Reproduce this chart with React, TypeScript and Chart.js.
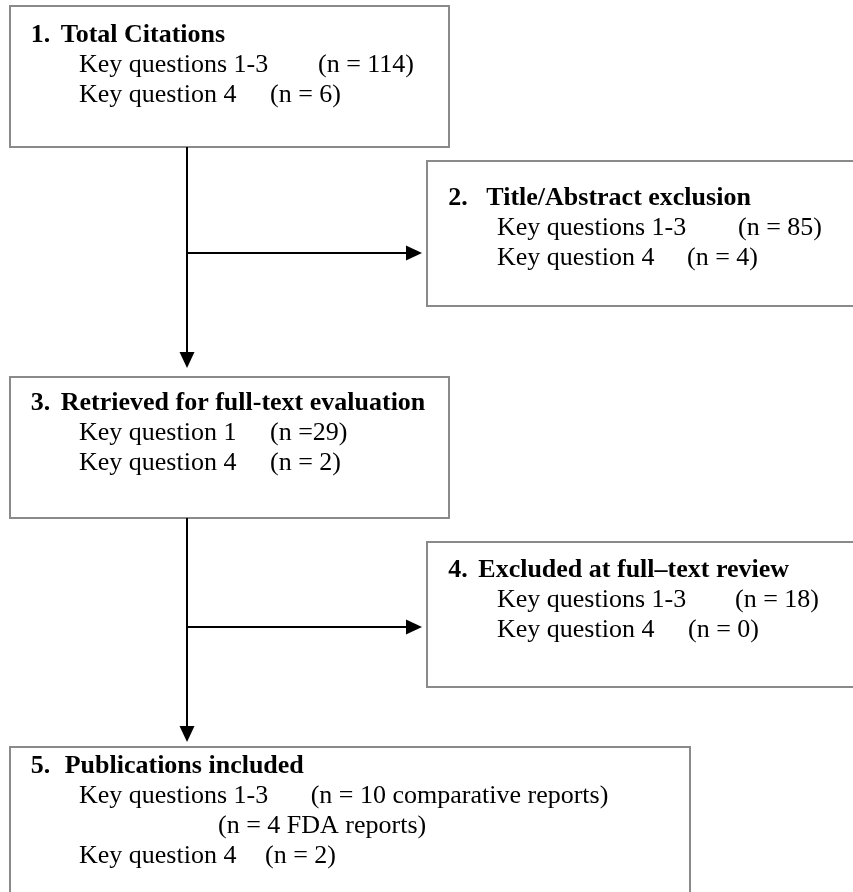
import { useEffect, useRef } from "react";
import { Chart, registerables } from "chart.js";

Chart.register(...registerables);

// ---------- data ----------
const stepNumbers = ["1.", "2.", "3.", "4.", "5."];
const stepTitles = [
  "Total Citations",
  "Title/Abstract exclusion",
  "Retrieved for full-text evaluation",
  "Excluded at full–text review",
  "Publications included",
];
const rowLabels = [
  ["Key questions 1-3", "Key question 4"],
  ["Key questions 1-3", "Key question 4"],
  ["Key question 1", "Key question 4"],
  ["Key questions 1-3", "Key question 4"],
  ["Key questions 1-3", "", "Key question 4"],
];
const rowCounts = [
  ["(n = 114)", "(n = 6)"],
  ["(n = 85)", "(n = 4)"],
  ["(n =29)", "(n = 2)"],
  ["(n = 18)", "(n = 0)"],
  ["(n = 10 comparative reports)", "(n = 4 FDA reports)", "(n = 2)"],
];

// ---------- layout (diagram units = px of the 853x892 page) ----------
const W = 853;
const H = 892;
const boxes = [
  { l: 10, t: 6, r: 449, b: 147, tx: 30.7, gap: 30, tb: 41.7, lx: 79, cx: [318, 270] },
  { l: 427, t: 161, r: 870, b: 306, tx: 448.3, gap: 38, tb: 205, lx: 497, cx: [738, 687] },
  { l: 10, t: 377, r: 449, b: 518, tx: 30.7, gap: 30, tb: 410, lx: 79, cx: [270, 270] },
  { l: 427, t: 542, r: 870, b: 687, tx: 448.3, gap: 30, tb: 577, lx: 497, cx: [735, 688] },
  { l: 10, t: 747, r: 690, b: 910, tx: 30.7, gap: 34, tb: 773, lx: 79, cx: [310.7, 218, 265] },
];
const LINE = 30;
const trunkX = 187;
const branchY = [253, 627];
const FONT = "'Liberation Serif', 'Times New Roman', serif";

export default function App() {
  const ref = useRef<HTMLCanvasElement>(null);

  useEffect(() => {
    const canvas = ref.current;
    if (!canvas) return;

    const flowPlugin = {
      id: "flowDiagram",
      afterDraw(chart: any) {
        const ctx: CanvasRenderingContext2D = chart.ctx;
        const xs = chart.scales.x;
        const ys = chart.scales.y;
        const px = (v: number) => xs.getPixelForValue(v);
        const py = (v: number) => ys.getPixelForValue(v);

        ctx.save();
        // boxes
        ctx.strokeStyle = "#8a8a8a";
        ctx.lineWidth = 2;
        boxes.forEach((bx) => {
          ctx.strokeRect(px(bx.l), py(bx.t), px(bx.r) - px(bx.l), py(bx.b) - py(bx.t));
        });

        // arrows
        const arrowDown = (x: number, y0: number, y1: number) => {
          ctx.strokeStyle = "#000";
          ctx.lineWidth = 2;
          ctx.beginPath();
          ctx.moveTo(px(x), py(y0));
          ctx.lineTo(px(x), py(y1) - 14);
          ctx.stroke();
          ctx.fillStyle = "#000";
          ctx.beginPath();
          ctx.moveTo(px(x) - 7.5, py(y1) - 16);
          ctx.lineTo(px(x) + 7.5, py(y1) - 16);
          ctx.lineTo(px(x), py(y1));
          ctx.closePath();
          ctx.fill();
        };
        const arrowRight = (y: number, x0: number, x1: number) => {
          ctx.strokeStyle = "#000";
          ctx.lineWidth = 2;
          ctx.beginPath();
          ctx.moveTo(px(x0), py(y));
          ctx.lineTo(px(x1) - 14, py(y));
          ctx.stroke();
          ctx.fillStyle = "#000";
          ctx.beginPath();
          ctx.moveTo(px(x1) - 16, py(y) - 7.5);
          ctx.lineTo(px(x1) - 16, py(y) + 7.5);
          ctx.lineTo(px(x1), py(y));
          ctx.closePath();
          ctx.fill();
        };
        // step 1 -> 3 with branch to 2 ; step 3 -> 5 with branch to 4
        arrowDown(trunkX, boxes[0].b, boxes[2].t - 9);
        arrowRight(branchY[0], trunkX, boxes[1].l - 5);
        arrowDown(trunkX, boxes[2].b, boxes[4].t - 5);
        arrowRight(branchY[1], trunkX, boxes[3].l - 5);

        // text
        ctx.fillStyle = "#000";
        ctx.textBaseline = "alphabetic";
        ctx.textAlign = "left";
        boxes.forEach((bx, i) => {
          ctx.font = `bold 26px ${FONT}`;
          ctx.fillText(stepNumbers[i], px(bx.tx), py(bx.tb));
          ctx.fillText(stepTitles[i], px(bx.tx + bx.gap), py(bx.tb));
          ctx.font = `26px ${FONT}`;
          rowLabels[i].forEach((lab, j) => {
            const yy = py(bx.tb + LINE * (j + 1));
            if (lab) ctx.fillText(lab, px(bx.lx), yy);
            ctx.fillText(rowCounts[i][j], px(bx.cx[j]), yy);
          });
        });
        ctx.restore();
      },
    };

    const chart = new Chart(canvas, {
      type: "scatter",
      data: { datasets: [{ data: [], pointRadius: 0 }] },
      options: {
        responsive: false,
        animation: false,
        devicePixelRatio: 1,
        events: [],
        layout: { padding: 0 },
        plugins: { legend: { display: false }, tooltip: { enabled: false }, title: { display: false } },
        scales: {
          x: { type: "linear", min: 0, max: W, display: false },
          y: { type: "linear", min: 0, max: H, reverse: true, display: false },
        },
      },
      plugins: [flowPlugin],
    });
    return () => chart.destroy();
  }, []);

  return (
    <div style={{ position: "absolute", left: 0, top: 0, width: W, height: H, background: "#fff" }}>
      <canvas ref={ref} width={W} height={H} style={{ display: "block", width: W, height: H }} />
    </div>
  );
}
